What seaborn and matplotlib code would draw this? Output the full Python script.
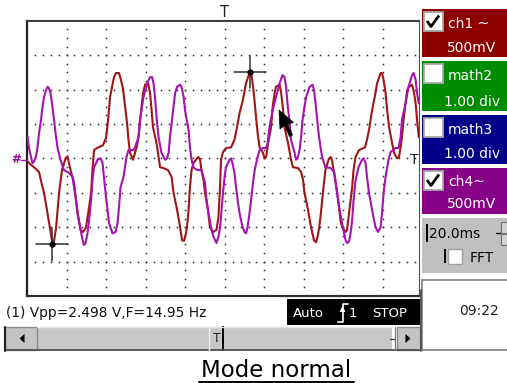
import numpy as np
import pandas as pd
import matplotlib
matplotlib.use("Agg")
import matplotlib.pyplot as plt
import seaborn as sns
from matplotlib.patches import Rectangle, Polygon

# ---------------- data (time in ms, voltage in V) ----------------
ch1_points = [(0.15,-0.04),(1.5,-0.08),(4.0,-0.14),(6.1,-0.20),(7.6,-0.39),(8.6,-0.50),(10.1,-0.75),(11.6,-1.01),(12.6,-1.19),(13.7,-1.20),(14.7,-1.01),(16.2,-0.50),(17.7,-0.17),(19.5,0.00),(20.5,0.03),(21.2,-0.07),(22.3,-0.20),(23.8,-0.36),(24.8,-0.61),(25.8,-0.82),(27.1,-1.04),(28.3,-1.07),(29.8,-1.01),(31.4,-0.71),(32.4,-0.50),(33.1,-0.17),(33.9,0.12),(35.4,0.15),(38.4,0.19),(40.0,0.30),(41.0,0.56),(42.0,0.89),(43.0,1.04),(44.0,1.18),(45.0,1.24),(46.5,1.24),(47.5,1.14),(48.5,1.02),(49.6,0.75),(50.6,0.51),(51.3,0.27),(52.1,0.08),(53.6,-0.02),(54.6,0.08),(55.6,0.18),(56.4,0.32),(57.1,0.51),(57.9,0.75),(58.7,0.95),(59.7,1.07),(61.2,1.09),(62.2,0.95),(63.0,0.70),(63.7,0.45),(65.5,0.22),(66.5,0.02),(67.3,-0.13),(68.8,-0.14),(71.3,-0.17),(73.1,-0.27),(74.1,-0.50),(75.9,-0.75),(77.4,-1.00),(78.4,-1.19),(79.4,-1.20),(80.2,-1.11),(80.9,-1.00),(81.7,-0.75),(82.4,-0.42),(83.2,-0.17),(84.2,-0.07),(86.0,0.00),(86.7,0.02),(87.5,-0.02),(88.2,-0.17),(89.3,-0.32),(90.0,-0.50),(91.5,-0.75),(92.5,-1.00),(94.1,-1.07),(95.8,-1.04),(96.8,-0.85),(97.6,-0.42),(98.1,-0.02),(99.1,0.09),(100.6,0.15),(103.2,0.16),(104.9,0.27),(105.9,0.41),(107.5,0.66),(109.2,0.85),(110.7,1.09),(112.5,1.24),(113.5,1.21),(114.3,1.04),(115.0,0.85),(115.8,0.60),(116.6,0.37),(117.6,0.16),(119.3,0.08),(120.1,0.00),(120.9,0.02),(121.9,0.22),(123.4,0.45),(124.2,0.75),(125.2,0.95),(125.9,1.04),(127.7,1.07),(128.5,0.95),(129.5,0.70),(130.2,0.45),(132.0,0.22),(133.5,-0.02),(134.5,-0.13),(137.0,-0.14),(138.6,-0.20),(139.6,-0.32),(140.3,-0.50),(142.1,-0.75),(143.6,-1.00),(145.1,-1.19),(146.1,-1.22),(146.9,-1.14),(147.7,-1.01),(148.4,-0.85),(149.9,-0.42),(150.9,-0.17),(152.5,-0.02),(153.5,0.02),(154.2,-0.02),(155.0,-0.17),(156.0,-0.36),(156.8,-0.50),(157.8,-0.71),(158.5,-0.90),(159.3,-1.00),(161.1,-1.07),(161.8,-1.04),(162.6,-0.85),(163.6,-0.61),(164.4,-0.42),(165.1,-0.17),(166.1,0.02),(167.9,0.12),(170.9,0.16),(171.9,0.27),(172.9,0.41),(174.5,0.70),(176.2,0.95),(177.0,1.09),(178.8,1.24),(179.5,1.24),(180.3,1.14),(181.3,0.95),(182.1,0.70),(183.1,0.45),(184.6,0.22),(185.6,0.08),(187.1,0.00),(188.1,0.02),(188.9,0.16),(189.6,0.31),(190.4,0.56),(191.4,0.80),(192.2,0.99),(193.2,1.04),(194.7,1.07),(195.7,0.95),(196.5,0.80),(197.2,0.56),(198.1,0.31)]

ch4_points = [(0.25,0.32),(1.0,0.15),(2.0,0.02),(2.8,-0.07),(3.5,-0.05),(4.6,0.03),(5.3,0.16),(6.1,0.37),(7.1,0.56),(7.8,0.74),(8.6,0.89),(9.6,0.99),(10.4,1.04),(11.1,1.02),(11.9,0.95),(12.9,0.74),(13.7,0.56),(14.4,0.37),(15.4,0.16),(16.9,-0.02),(18.7,-0.17),(21.2,-0.21),(23.0,-0.27),(23.8,-0.42),(24.8,-0.61),(25.5,-0.80),(27.1,-1.04),(28.1,-1.19),(28.8,-1.26),(29.6,-1.23),(30.6,-1.09),(31.4,-0.90),(32.4,-0.61),(33.1,-0.32),(33.9,-0.13),(35.7,-0.02),(37.2,0.00),(38.2,-0.07),(38.9,-0.27),(39.7,-0.50),(40.7,-0.75),(41.5,-0.94),(43.2,-1.09),(44.8,-1.07),(45.8,-0.94),(46.5,-0.71),(47.3,-0.42),(48.8,-0.27),(50.3,0.02),(51.3,0.12),(53.9,0.12),(54.6,0.16),(56.4,0.31),(57.1,0.56),(57.9,0.70),(58.9,0.89),(60.7,1.09),(62.2,1.18),(63.2,1.18),(64.0,1.09),(64.7,0.89),(65.5,0.60),(66.5,0.31),(68.0,0.08),(69.8,-0.02),(70.8,0.00),(71.6,0.08),(72.3,0.31),(73.1,0.51),(74.1,0.75),(74.9,0.95),(75.9,1.04),(77.4,1.07),(78.1,1.04),(79.2,0.89),(79.9,0.70),(81.7,0.41),(82.4,0.16),(83.2,-0.02),(84.2,-0.13),(86.0,-0.17),(88.2,-0.17),(90.0,-0.36),(90.8,-0.61),(91.8,-0.80),(93.3,-1.04),(94.3,-1.14),(95.8,-1.23),(96.8,-1.14),(97.6,-1.00),(98.1,-0.85),(98.9,-0.56),(99.9,-0.27),(100.6,-0.13),(102.4,-0.02),(103.2,0.00),(103.9,-0.07),(104.9,-0.21),(105.7,-0.42),(106.5,-0.61),(107.5,-0.80),(109.0,-1.00),(110.0,-1.07),(110.8,-1.09),(111.5,-1.00),(112.5,-0.80),(113.3,-0.61),(114.0,-0.42),(115.1,-0.17),(116.6,0.02),(117.6,0.12),(119.3,0.15),(120.9,0.15),(121.6,0.22),(122.6,0.45),(124.2,0.70),(125.9,0.89),(127.7,1.09),(129.2,1.21),(130.2,1.18),(131.0,1.04),(131.7,0.80),(132.8,0.51),(133.5,0.27),(135.3,0.08),(136.0,-0.02),(136.8,0.00),(137.8,0.12),(138.6,0.31),(139.3,0.56),(140.3,0.75),(141.1,0.89),(142.9,1.04),(144.4,1.07),(145.1,0.99),(145.9,0.80),(146.6,0.60),(147.4,0.37),(148.4,0.16),(149.2,0.02),(150.9,-0.13),(153.5,-0.14),(155.3,-0.20),(156.0,-0.32),(156.8,-0.50),(157.8,-0.71),(159.3,-0.94),(160.3,-1.09),(161.1,-1.19),(161.8,-1.23),(162.8,-1.21),(163.6,-1.09),(164.4,-0.90),(165.1,-0.61),(166.1,-0.32),(167.6,-0.13),(169.4,-0.02),(170.2,0.00),(171.2,-0.07),(171.9,-0.27),(172.9,-0.50),(174.5,-0.75),(176.2,-1.00),(177.5,-1.07),(178.8,-1.00),(179.5,-0.80),(180.3,-0.50),(181.3,-0.27),(182.8,-0.02),(183.8,0.09),(186.3,0.15),(187.9,0.15),(188.9,0.31),(189.6,0.56),(191.4,0.80),(192.9,1.04),(194.7,1.21),(195.5,1.24),(196.5,1.14),(197.2,0.95),(198.1,0.80)]

cursor_t = [12.8, 112.8]
cursor_v = [-1.25, 1.25]
trigger_t = 100.0

channel_labels = ["ch1 ~", "math2", "math3", "ch4~"]
channel_scales = ["500mV", "1.00 div", "1.00 div", "500mV"]
channel_checked = [True, False, False, True]
timebase_label = "20.0ms"
fft_label = "FFT"
measure_text = "(1) Vpp=2.498 V,F=14.95 Hz"
status_left = "Auto"
status_src = "1"
status_right = "STOP"
clock_text = "09:22"
caption = "Mode normal"

# ---------------- styling ----------------
sns.set_theme(style="white")
plt.rcParams['font.family'] = ['DejaVu Sans']

W, H = 507, 383
fig = plt.figure(figsize=(W / 100, H / 100), dpi=100)
fig.patch.set_facecolor("white")

ax = fig.add_axes([27 / W, 1 - 296 / H, 392 / W, 275.3 / H])
ax.set_facecolor("white")
ax.set_xlim(0, 198.2)
ax.set_ylim(-2.0, 2.0)

# dotted graticule
gx, gy = [], []
for yv in np.arange(-1.5, 1.51, 0.5):
    for xv in np.arange(4, 198, 4):
        gx.append(xv); gy.append(yv)
for xv in np.arange(20, 181, 20):
    for yv in np.arange(-2 + 0.125, 2.0, 0.125):
        gx.append(xv); gy.append(yv)
ax.plot(gx, gy, ls="none", marker="s", ms=1.1, mew=0, color="#2a2a2a", zorder=1)

df1 = pd.DataFrame(ch1_points, columns=["t", "v"])
df4 = pd.DataFrame(ch4_points, columns=["t", "v"])
sns.lineplot(data=df1, x="t", y="v", ax=ax, color="#a01616", lw=1.5,
             estimator=None, sort=False, zorder=3)
sns.lineplot(data=df4, x="t", y="v", ax=ax, color="#a314b0", lw=1.5,
             estimator=None, sort=False, zorder=3)
ax.set_xlabel(""); ax.set_ylabel("")
ax.set_xticks([]); ax.set_yticks([])
ax.set_xlim(0, 198.2)
ax.set_ylim(-2.0, 2.0)

# crosshair cursors
for ct, cv in zip(cursor_t, cursor_v):
    ax.plot([ct - 8.1, ct + 8.1], [cv, cv], color="#303030", lw=1.1, zorder=5)
    ax.plot([ct, ct], [cv - 0.235, cv + 0.235], color="#303030", lw=1.1, zorder=5)
    ax.plot([ct], [cv], marker="o", ms=3.5, color="black", zorder=6)

for side, sp in ax.spines.items():
    sp.set_visible(True)
ax.spines["top"].set_color("#404040"); ax.spines["top"].set_linewidth(1.5)
ax.spines["left"].set_color("#202020"); ax.spines["left"].set_linewidth(1.6)
ax.spines["bottom"].set_color("#303030"); ax.spines["bottom"].set_linewidth(1.6)
ax.spines["right"].set_color("#505050"); ax.spines["right"].set_linewidth(0.8)

# ---------------- overlay (screen furniture) ----------------
ov = fig.add_axes([0, 0, 1, 1], zorder=5)
ov.set_xlim(0, W); ov.set_ylim(H, 0)
ov.axis("off")
ov.patch.set_alpha(0)

# trigger markers
trig_px = 27 + trigger_t / 198.2 * 392
ov.text(trig_px, 12.5, "T", ha="center", va="center", fontsize=10.5, color="#202020")
ov.text(414, 159.5, "T", ha="center", va="center", fontsize=10, color="#202020")
ov.text(16.5, 159.5, "#", ha="center", va="center", fontsize=8.5, color="#a010a0", fontweight="bold")
ov.plot([21, 27], [160, 160], color="#a010a0", lw=1)

# mouse pointer
ov.add_patch(Polygon([(279, 110), (280, 129), (284.5, 125.5), (289.5, 136.5), (292.5, 135),
                      (287.5, 124), (293.5, 122.5)], closed=True, fc="black", ec="black", lw=0.5))

# channel boxes
box_rows = [(9, 57, "#8c0000"), (61, 111, "#008c00"), (115, 164, "#000088"), (168, 214, "#880088")]
for (top, bot, col), lab, sc, chk in zip(box_rows, channel_labels, channel_scales, channel_checked):
    ov.add_patch(Rectangle((422, top), 85, bot - top, fc=col, ec="none"))
    ov.add_patch(Rectangle((423.5, top + 2.5), 19, 19, fc="white", ec="#a8a8a8", lw=1.3))
    if chk:
        ov.plot([427, 431, 439], [top + 12, top + 17.5, top + 6.5], color="black", lw=2.0,
                solid_capstyle="butt")
    ov.text(448, top + 18.5, lab, ha="left", va="baseline", fontsize=10, color="white")
    ov.text(472, bot - 5.5, sc, ha="center", va="baseline", fontsize=10, color="white")

# timebase panel
ov.add_patch(Rectangle((422, 218), 85, 55, fc="#c0c0c0", ec="none"))
ov.add_patch(Rectangle((426.3, 223.5), 2, 18.5, fc="black", ec="none"))
ov.text(429.5, 238, timebase_label, ha="left", va="baseline", fontsize=10, color="black")
ov.add_patch(Rectangle((500.5, 221.5), 6.5, 11, fc="#d4d4d4", ec="#707070", lw=0.8))
ov.add_patch(Rectangle((500.5, 233.5), 6.5, 11, fc="#d4d4d4", ec="#707070", lw=0.8))
ov.plot([496, 500], [233, 233], color="black", lw=1)
ov.add_patch(Rectangle((444.3, 249), 1.6, 13.5, fc="black", ec="none"))
ov.add_patch(Rectangle((447.5, 249), 14.5, 14.5, fc="white", ec="#a0a0a0", lw=1))
ov.text(470, 261.5, fft_label, ha="left", va="baseline", fontsize=10, color="black")

# clock box
ov.add_patch(Rectangle((421.5, 279.5), 86, 70.5, fc="white", ec="#808080", lw=1.2))
ov.text(479, 315, clock_text, ha="center", va="baseline", fontsize=10, color="#202020")
ov.plot([421, 421], [290, 350.5], color="#505050", lw=1.3)

# measurement text
ov.text(6, 317, measure_text, ha="left", va="baseline", fontsize=9.9, color="#101010")

# status box
ov.add_patch(Rectangle((287, 298.5), 133, 26.5, fc="black", ec="none"))
ov.text(293, 317, status_left, ha="left", va="baseline", fontsize=9.5, color="white")
ov.plot([337.5, 342.5, 342.5, 347.5], [321.5, 321.5, 304, 304], color="white", lw=1.2)
ov.add_patch(Polygon([(339.5, 312), (345.5, 312), (342.5, 305.5)], closed=True, fc="white", ec="none"))
ov.text(348.5, 317, status_src, ha="left", va="baseline", fontsize=9.5, color="white")
ov.text(372, 317, status_right, ha="left", va="baseline", fontsize=9.5, color="white")

# scrollbar
ov.add_patch(Rectangle((37, 326.5), 355, 23.5, fc="#c8c8c8", ec="none"))
ov.plot([37, 392], [327, 327], color="#e8e8e8", lw=1)
ov.plot([4.5, 421], [350.3, 350.3], color="#505050", lw=1.3)
ov.add_patch(Rectangle((5, 326.5), 32, 23.5, fc="#c4c4c4", ec="#8a8a8a", lw=1))
ov.plot([5.3, 5.3], [326.5, 350.5], color="#202020", lw=1.5)
ov.add_patch(Polygon([(19.5, 338.5), (24.5, 334), (24.5, 343)], closed=True, fc="black", ec="none"))
ov.add_patch(Rectangle((397, 326.5), 23, 23.5, fc="#c4c4c4", ec="#8a8a8a", lw=1))
ov.add_patch(Polygon([(405.5, 334), (405.5, 343), (410.5, 338.5)], closed=True, fc="black", ec="none"))
ov.plot([390, 394.5], [338.5, 338.5], color="#404040", lw=1)
ov.plot([394.5, 394.5], [327, 350], color="#808080", lw=1)
ov.plot([208.5, 208.5], [327, 350], color="#f0f0f0", lw=1)
ov.text(216.5, 339, "T", ha="center", va="center", fontsize=9, color="#202020")
ov.add_patch(Rectangle((221.5, 326), 2.5, 24.5, fc="black", ec="none"))

# caption
ov.text(276.5, 377, caption, ha="center", va="baseline", fontsize=16.5, color="black")
ov.plot([199, 354], [381.5, 381.5], color="black", lw=1.4)

fig.savefig("out.png", dpi=100, facecolor="white")
